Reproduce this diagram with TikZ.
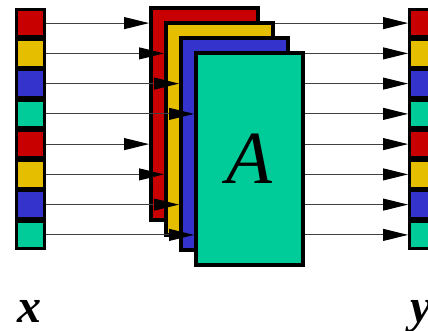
\documentclass[tikz,border=0pt]{standalone}
\usepackage{fontspec}
\setmainfont{Liberation Serif}
\usetikzlibrary{arrows.meta, backgrounds}
\definecolor{vred}{HTML}{C80000}
\definecolor{vyellow}{HTML}{E6BE00}
\definecolor{vblue}{HTML}{3434CC}
\definecolor{vgreen}{HTML}{00CC99}
\definecolor{wire}{HTML}{404040}

\begin{document}
\begin{tikzpicture}[x=1pt, y=-1pt,
          cell/.style={draw=black, line width=3pt, minimum width=28pt, minimum height=27.25pt, inner sep=0pt},
          panel/.style={draw=black, line width=4pt, minimum width=107pt, minimum height=212pt, inner sep=0pt},
          feed/.style={draw=wire, line width=1pt, -{Triangle[length=25pt, width=12pt, color=black]}},
          vec/.style={font=\fontsize{48}{48}\selectfont\bfseries\itshape, inner sep=0pt}]
          \useasboundingbox (0,0) rectangle (428,331);
          % input vector x
          \node[cell, fill=vred] (x1) at (30.5,23.1) {};
          \node[cell, fill=vyellow] (x2) at (30.5,53.4) {};
          \node[cell, fill=vblue] (x3) at (30.5,83.6) {};
          \node[cell, fill=vgreen] (x4) at (30.5,113.9) {};
          \node[cell, fill=vred] (x5) at (30.5,144.1) {};
          \node[cell, fill=vyellow] (x6) at (30.5,174.4) {};
          \node[cell, fill=vblue] (x7) at (30.5,204.6) {};
          \node[cell, fill=vgreen] (x8) at (30.5,234.9) {};
          % output vector y
          \node[cell, fill=vred] (y1) at (423.5,23.1) {};
          \node[cell, fill=vyellow] (y2) at (423.5,53.4) {};
          \node[cell, fill=vblue] (y3) at (423.5,83.6) {};
          \node[cell, fill=vgreen] (y4) at (423.5,113.9) {};
          \node[cell, fill=vred] (y5) at (423.5,144.1) {};
          \node[cell, fill=vyellow] (y6) at (423.5,174.4) {};
          \node[cell, fill=vblue] (y7) at (423.5,204.6) {};
          \node[cell, fill=vgreen] (y8) at (423.5,234.9) {};
          % stacked panels
          \node[panel, fill=vred] (pr) at (204.5,114) {};
          \node[panel, fill=vyellow] (py) at (219.5,129) {};
          \node[panel, fill=vblue] (pb) at (234.5,144) {};
          \node[panel, fill=vgreen] (pg) at (249.5,159) {\fontsize{75}{75}\selectfont\itshape A};
          \begin{scope}[on background layer]
          \draw[feed] (pr.east |- y1.west) -- (y1.west); \draw[feed] (py.east |- y2.west) -- (y2.west);
          \draw[feed] (pb.east |- y3.west) -- (y3.west); \draw[feed] (pg.east |- y4.west) -- (y4.west);
          \draw[feed] (pr.east |- y5.west) -- (y5.west); \draw[feed] (py.east |- y6.west) -- (y6.west);
          \draw[feed] (pb.east |- y7.west) -- (y7.west); \draw[feed] (pg.east |- y8.west) -- (y8.west);
          \end{scope}
          \draw[feed] (x1.east) -- (x1.east -| pr.west); \draw[feed] (x2.east) -- (x2.east -| py.west);
          \draw[feed] (x3.east) -- (x3.east -| pb.west); \draw[feed] (x4.east) -- (x4.east -| pg.west);
          \draw[feed] (x5.east) -- (x5.east -| pr.west); \draw[feed] (x6.east) -- (x6.east -| py.west);
          \draw[feed] (x7.east) -- (x7.east -| pb.west); \draw[feed] (x8.east) -- (x8.east -| pg.west);
          % labels
          \node[vec, anchor=base] (lx) at (29,322) {x};
          \node[vec, anchor=base west] (ly) at (410,322) {y};
        \end{tikzpicture}
\end{document}
